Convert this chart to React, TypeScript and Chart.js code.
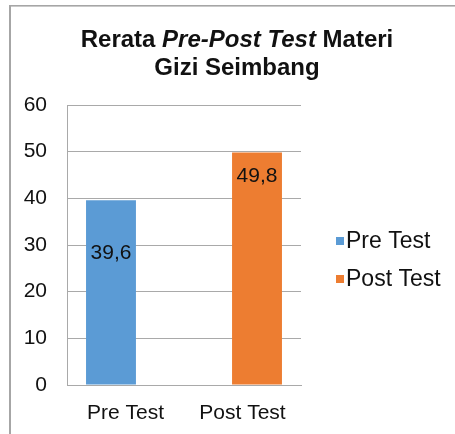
import React, { useEffect, useRef } from "react";
import { Chart, registerables } from "chart.js";

Chart.register(...registerables);

const categories = ["Pre Test", "Post Test"];
const seriesNames = ["Pre Test", "Post Test"];
const preValues: (number | null)[] = [39.6, null];
const postValues: (number | null)[] = [null, 49.8];
const seriesColors = ["#5b9bd5", "#ed7d31"];
const yMin = 0;
const yMax = 60;
const yStep = 10;
const titleLine1 = [
  { text: "Rerata ", italic: false },
  { text: "Pre-Post Test", italic: true },
  { text: " Materi", italic: false },
];
const titleLine2 = "Gizi Seimbang";

const FONT = "'Liberation Sans', Arial, Helvetica, sans-serif";
const GRAY = "#a9a9a9";
const TEXT = "#111111";

const framePlugin = {
  id: "frame",
  beforeDraw(chart: any) {
    const ctx = chart.ctx;
    ctx.save();
    ctx.fillStyle = "#ffffff";
    ctx.fillRect(0, 0, chart.width, chart.height);
    ctx.fillStyle = "#a6a6a6";
    ctx.fillRect(9, 5, 2, chart.height - 5);
    ctx.fillRect(9, 5, chart.width - 9, 1.6);
    ctx.restore();
  },
};

const titlePlugin = {
  id: "mixedTitle",
  afterDraw(chart: any) {
    const ctx = chart.ctx;
    const cx = 237;
    const size = 24;
    ctx.save();
    ctx.fillStyle = TEXT;
    ctx.textBaseline = "middle";
    ctx.textAlign = "left";
    const fontOf = (it: boolean) => `${it ? "italic " : ""}bold ${size}px ${FONT}`;
    let total = 0;
    titleLine1.forEach((s) => {
      ctx.font = fontOf(s.italic);
      total += ctx.measureText(s.text).width;
    });
    let x = cx - total / 2;
    titleLine1.forEach((s) => {
      ctx.font = fontOf(s.italic);
      ctx.fillText(s.text, x, 40);
      x += ctx.measureText(s.text).width;
    });
    ctx.font = fontOf(false);
    ctx.textAlign = "center";
    ctx.fillText(titleLine2, cx, 68);
    ctx.restore();
  },
};

const labelOffsets = [53, 24];

const valueLabelPlugin = {
  id: "valueLabels",
  afterDatasetsDraw(chart: any) {
    const ctx = chart.ctx;
    ctx.save();
    ctx.fillStyle = TEXT;
    ctx.font = `21px ${FONT}`;
    ctx.textAlign = "center";
    ctx.textBaseline = "middle";
    chart.data.datasets.forEach((ds: any, i: number) => {
      const meta = chart.getDatasetMeta(i);
      meta.data.forEach((bar: any, j: number) => {
        const v = ds.data[j];
        if (v === null || v === undefined) return;
        ctx.fillText(v.toFixed(1).replace(".", ","), bar.x, bar.y + labelOffsets[i]);
      });
    });
    ctx.restore();
  },
};

const legendPlugin = {
  id: "sideLegend",
  afterDraw(chart: any) {
    const ctx = chart.ctx;
    ctx.save();
    ctx.font = `23px ${FONT}`;
    ctx.textBaseline = "middle";
    ctx.textAlign = "left";
    chart.data.datasets.forEach((ds: any, i: number) => {
      const cy = 241 + i * 38;
      ctx.fillStyle = ds.backgroundColor;
      ctx.fillRect(336, cy - 4, 8, 8);
      ctx.fillStyle = TEXT;
      ctx.fillText(ds.label, 346, cy + 1);
    });
    ctx.restore();
  },
};

export default function App() {
  const ref = useRef<HTMLCanvasElement>(null);
  useEffect(() => {
    if (!ref.current) return;
    const chart = new Chart(ref.current, {
      type: "bar",
      data: {
        labels: categories,
        datasets: [
          { label: seriesNames[0], data: preValues, backgroundColor: seriesColors[0] },
          { label: seriesNames[1], data: postValues, backgroundColor: seriesColors[1] },
        ],
      },
      options: {
        animation: false,
        responsive: false,
        events: [],
        categoryPercentage: 0.496,
        barPercentage: 1.72,
        layout: { padding: { top: 105, right: 154, bottom: 0, left: 0 } },
        plugins: {
          legend: { display: false },
          title: { display: false },
          tooltip: { enabled: false },
        },
        scales: {
          x: {
            grid: { display: false, drawTicks: false },
            border: { display: true, color: GRAY, width: 1 },
            ticks: { color: TEXT, font: { family: FONT, size: 21 }, padding: 16 },
            afterFit(scale: any) {
              scale.height = 49;
            },
          },
          y: {
            min: yMin,
            max: yMax,
            grid: { color: GRAY, drawTicks: false, lineWidth: 1 },
            border: { display: true, color: GRAY, width: 1 },
            ticks: { stepSize: yStep, color: TEXT, font: { family: FONT, size: 21 }, padding: 20 },
            afterFit(scale: any) {
              scale.width = 67;
            },
          },
        },
      },
      plugins: [framePlugin, titlePlugin, valueLabelPlugin, legendPlugin],
    } as any);
    return () => chart.destroy();
  }, []);
  return (
    <div style={{ position: "absolute", left: 0, top: 0, width: 455, height: 434 }}>
      <canvas ref={ref} width={455} height={434} style={{ display: "block" }} />
    </div>
  );
}
